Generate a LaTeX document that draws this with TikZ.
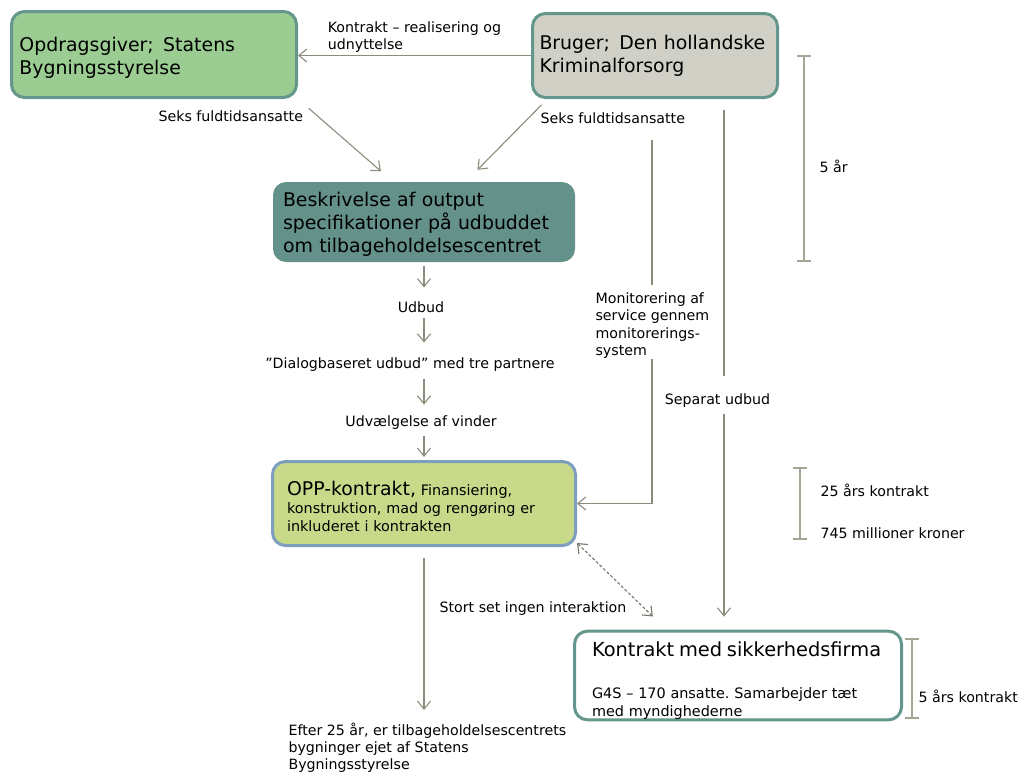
\documentclass[tikz,border=0pt]{standalone}
\usepackage{fontspec}
\setmainfont{DejaVu Sans}
\usepackage{tikz}
\usetikzlibrary{arrows.meta}
\usetikzlibrary{positioning}
\frenchspacing

\definecolor{opdragfill}{RGB}{155,204,146}
\definecolor{brugerfill}{RGB}{208,208,198}
\definecolor{beskrivfill}{RGB}{100,146,138}
\definecolor{oppfill}{RGB}{200,218,138}
\definecolor{oppline}{RGB}{125,158,190}
\definecolor{tealline}{RGB}{100,150,140}
\definecolor{linegray}{RGB}{140,140,124}
\definecolor{dashgray}{RGB}{118,118,104}
\definecolor{bargray}{RGB}{165,165,150}

\newcommand{\boxfont}{\fontsize{18.9}{23}\selectfont}
\newcommand{\titlefont}{\fontsize{19.4}{23}\selectfont}
\newcommand{\lblfont}{\fontsize{14.2}{17.5}\selectfont}
\newcommand{\bodyfont}{\fontsize{14.4}{18}\selectfont}

\begin{document}
\begin{tikzpicture}[x=1pt, y=-1pt, >={Straight Barb[length=8pt, width=13pt]}, line width=1.1pt]
  \tikzstyle{every edge}=[draw, linegray]
  \tikzstyle{box}=[rectangle, rounded corners=13pt, line width=3pt, align=left, inner ysep=0pt, font=\boxfont]
  \tikzstyle{lbl}=[font=\lblfont, text=black, inner sep=0pt, text height=10pt, text depth=3pt]
  \tikzstyle{mlbl}=[font=\lblfont, text=black, inner sep=0pt, align=left]
  \tikzstyle{bar}=[draw=bargray, line width=2pt, {Bar[width=14pt]}-{Bar[width=14pt]}]

  \useasboundingbox (0,0) rectangle (1020,774);

  % boxes
  \node[box, fill=opdragfill, draw=tealline, minimum height=86pt, text width=269pt, inner xsep=8pt] (opdrag) at (154,54.5) {\rule{0pt}{20.4pt}Opdragsgiver;\enspace Statens\\Bygningsstyrelse};
  \node[box, fill=brugerfill, draw=tealline, minimum height=84pt, text width=231pt, inner xsep=7pt] (bruger) at (655,55.5) {\mbox{Bruger;\enspace Den hollandske}\\Kriminalforsorg};
  \node[box, fill=beskrivfill, draw=none, minimum height=80pt, text width=282pt, inner xsep=10pt] (beskriv) at (424,222) {\rule{0pt}{18.4pt}Beskrivelse af output\\specifikationer på udbuddet\\om tilbageholdelsescentret};
  \node[box, fill=oppfill, draw=oppline, minimum height=84pt, text width=274pt, inner xsep=14.5pt, font=\bodyfont] (opp) at (424,503.5) {\rule{0pt}{19.5pt}{\boxfont OPP-kontrakt,} Finansiering,\\konstruktion, mad og rengøring er\\inkluderet i kontrakten};
  \node[box, fill=white, draw=tealline, minimum height=88pt, text width=292pt, inner xsep=17.5pt, font=\bodyfont] (sikker) at (738,675.5) {\rule{0pt}{25.7pt}\mbox{\titlefont Kontrakt med sikkerhedsfirma}\\[24pt]G4S – 170 ansatte. Samarbejder tæt\\med myndighederne};

  % labels
  \node[lbl, anchor=west] (seksA) at (158,117.5) {Seks fuldtidsansatte};
  \node[lbl, anchor=west] (seksB) at (540,119.5) {Seks fuldtidsansatte};
  \node[lbl] (udbud) at (421,308.5) {Udbud};
  \node[lbl] (dialog) [below=42pt of udbud, xshift=-11pt] {”Dialogbaseret udbud” med tre partnere};
  \node[lbl] (vinder) [below=44pt of dialog, xshift=11pt] {Udvælgelse af vinder};
  \node[mlbl, anchor=north west] (monlbl) at (595,292) {Monitorering af\\service gennem\\monitorerings-\\system};
  \node[lbl] (seplbl) at (717.5,400.5) {Separat udbud};
  \node[lbl] (stort) at (533,608.5) {Stort set ingen interaktion};
  \node[mlbl, anchor=north west, font=\fontsize{14.2}{17}\selectfont] (efter) at (288,722) {Efter 25 år, er tilbageholdelsescentrets\\bygninger ejet af Statens\\Bygningsstyrelse};
  \node[lbl, anchor=west] (aar5) at (819,168.5) {5 år};
  \node[lbl, anchor=west] (aar25) at (820,492.5) {25 års kontrakt};
  \node[lbl] (kroner) [below=28pt of aar25.south west, anchor=north west] {745 millioner kroner};
  \node[lbl, anchor=west] (aar5k) at (918,698.5) {5 års kontrakt};

  % connectors
  \path (bruger.west) edge[->] node[mlbl, above=2pt] (kontraktlbl) {Kontrakt – realisering og\\udnyttelse} (opdrag.east |- bruger.west);
  \path (opdrag.south east) edge[->, shorten <=14pt, shorten >=14pt] (beskriv.128);
  \path (bruger.202) edge[->, shorten <=8pt, shorten >=15pt] (beskriv.44);

  \path (beskriv.south) edge[->, shorten <=2pt, shorten >=14pt] (beskriv.south |- udbud.north)
        (beskriv.south |- udbud.south) edge[->, shorten <=2pt, shorten >=15pt] (beskriv.south |- dialog.north)
        (beskriv.south |- dialog.south) edge[->, shorten <=7pt, shorten >=11pt] (beskriv.south |- vinder.north)
        (beskriv.south |- vinder.south) edge[->, shorten <=6pt, shorten >=3pt] (opp.north);

  \coordinate (monTop) at (652,140);
  \path (monTop) edge[shorten >=7pt] (monTop |- monlbl.north);
  \draw[linegray, ->] (monTop |- monlbl.south) |- (opp.east);

  \coordinate (sepTop) at ([xshift=69pt, yshift=-11pt]bruger.south);
  \path (sepTop) edge[shorten >=17pt] (sepTop |- seplbl.north);
  \path (sepTop |- seplbl.south) edge[->, shorten <=6pt, shorten >=13pt] (sepTop |- sikker.north);

  \path ([yshift=4pt]opp.south east) edge[<->, dashgray, dash pattern=on 3pt off 2pt, shorten >=19pt] ([xshift=93.5pt]sikker.north west);
  \path (opp.south) edge[->, shorten <=11pt, shorten >=12pt] (opp.south |- efter.north);

  % bars
  \draw[bar] (804,55) -- (804,262);
  \draw[bar] (800,467) -- (800,540);
  \draw[bar] (912,638) -- (912,719);
\end{tikzpicture}
\end{document}
